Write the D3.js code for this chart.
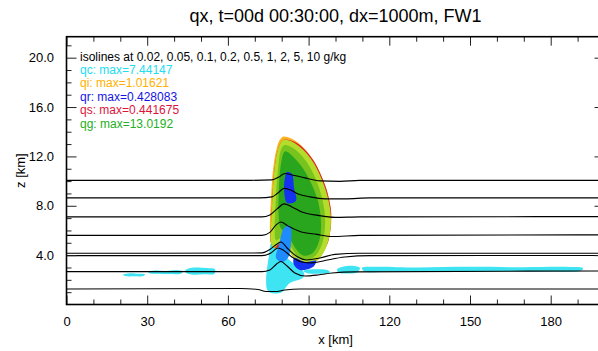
<!DOCTYPE html>
<html><head><meta charset="utf-8">
<script src="https://cdn.jsdelivr.net/npm/d3@7"></script>
<style>
body{margin:0;background:#fff}
svg{display:block}
text{font-family:"Liberation Sans",Arial,Helvetica,sans-serif}
</style>
</head><body>
<svg id="c" width="598" height="351"></svg>
<script>
// ---------- data ----------
const title = "qx, t=00d 00:30:00, dx=1000m, FW1";
const xLabel = "x [km]";
const zLabel = "z [km]";
const xDomain = [0, 200];
const zDomain = [0, 21.7];
const xMajorTicks = [0, 30, 60, 90, 120, 150, 180];
const zMajorTicks = [4, 8, 12, 16, 20];

const legendLines = [
  "isolines at 0.02, 0.05, 0.1, 0.2, 0.5, 1, 2, 5, 10 g/kg",
  "qc: max=7.44147",
  "qi: max=1.01621",
  "qr: max=0.428083",
  "qs: max=0.441675",
  "qg: max=13.0192"
];
const legendColors = ["#000000", "#22dcf0", "#ffb000", "#1414e6", "#dc143c", "#22b022"];

// black isolines: [x km, z km]
const isoline1 = [[0,10.06],[68.2,10.06],[76.4,10.10],[79.0,10.34],[81.2,10.62],[83.8,10.50],[88.7,10.26],[94.2,10.02],[101.7,9.98],[109.1,10.06],[200,10.06]];
const isoline2 = [[0,8.64],[71.9,8.64],[76.4,8.72],[78.6,9.04],[80.9,9.41],[83.1,9.29],[86.1,8.96],[90.5,8.72],[96.1,8.56],[103.5,8.56],[112.8,8.64],[200,8.64]];
const isoline3 = [[0,7.10],[72.7,7.10],[75.6,7.26],[78.3,7.75],[80.9,8.15],[83.8,7.91],[87.5,7.50],[93.5,7.22],[99.8,7.06],[109.1,7.10],[200,7.12]];
const isoline4 = [[0,5.60],[72.7,5.60],[75.6,5.84],[77.9,6.45],[79.7,6.69],[82.3,6.37],[86.8,5.92],[93.1,5.68],[98.7,5.51],[109.1,5.60],[200,5.64]];
const isoline5 = [[0,4.15],[72.7,4.18],[75.6,4.46],[78.3,4.91],[79.7,5.07],[82.0,4.58],[85.7,3.89],[89.4,3.61],[94.2,3.77],[99.8,4.06],[109.1,4.15],[200,4.15]];
const isoline6 = [[0,3.96],[72.7,3.96],[76.0,4.18],[78.6,4.58],[80.5,4.42],[83.8,3.85],[87.5,3.45],[91.3,3.37],[96.1,3.57],[103.5,3.85],[112.8,3.96],[200,3.97]];
const isoline7 = [[0,2.66],[72.7,2.66],[75.6,2.80],[77.9,3.24],[79.7,3.49],[82.0,3.12],[84.9,2.55],[88.7,2.31],[93.5,2.39],[98.7,2.55],[107.2,2.64],[200,2.72]];
const isoline8 = [[0,1.26],[64.5,1.30],[71.2,1.22],[74.2,1.05],[77.5,1.05],[81.2,1.18],[86.8,1.26],[200,1.26]];

// filled regions (outlines, x km, z km)
const qcPatchA = [[21.0,2.42],[23,2.52],[26,2.5],[29.2,2.45],[28.5,2.3],[25,2.28],[22,2.3]];
const qcPatchB = [[30.3,2.65],[33,2.75],[37,2.72],[41,2.78],[43.3,2.7],[42.5,2.5],[38,2.47],[34,2.5],[31,2.52]];
const qcPatchC = [[44.1,2.75],[46,2.95],[49,3.0],[52,2.95],[55.2,2.85],[55,2.5],[51,2.45],[47,2.42],[44.5,2.55]];
const qcPatchD = [[88,2.72],[92,2.85],[97,2.8],[98,2.6],[94,2.5],[90,2.52]];
const qcPatchE = [[100.6,2.85],[103,3.08],[107,3.12],[109.1,2.95],[108,2.6],[104,2.52],[101,2.6]];
const qcPatchF = [[109.9,2.98],[115,3.06],[130,3.0],[150,3.05],[170,3.02],[185,3.05],[192,2.95],[191.5,2.75],[180,2.68],[160,2.7],[140,2.66],[120,2.68],[110.5,2.7]];
const qcCore = [[74.2,2.0],[74.6,3.0],[75.3,4.0],[76.0,4.99],[77.9,5.39],[79.7,4.42],[82.0,3.77],[84.6,3.3],[86.8,2.96],[88.4,2.5],[87.8,2.15],[85.5,1.95],[83.0,1.75],[81.2,1.3],[80.1,1.0],[76.0,0.93],[74.6,1.2]];

const qiOutline = [[80.5,13.6],[83.1,13.5],[85.9,13.14],[89.0,12.5],[92.0,11.62],[94.6,10.5],[96.5,9.45],[97.9,8.23],[98.5,7.02],[98.0,5.88],[96.8,4.83],[92.4,3.45],[86.1,3.45],[81.2,4.74],[77.1,4.58],[76.0,4.99],[75.6,6.45],[75.9,8.07],[76.3,9.70],[77.0,11.31],[78.1,12.61],[79.2,13.3]];
const qsOutline = [[80.5,13.34],[83.1,13.3],[85.9,13.04],[89.0,12.45],[92.0,11.6],[94.6,10.5],[96.5,9.45],[97.9,8.2],[98.4,7.4],[98.3,7.02],[98.0,5.88],[96.8,4.83],[92.4,3.45],[86.1,3.45],[81.2,4.74],[77.1,4.58],[76.0,4.99],[76.0,6.45],[76.4,8.07],[76.8,9.70],[77.5,11.31],[78.6,12.53]];
const qgOuter = [[80.5,13.34],[83.1,13.26],[85.7,12.94],[88.7,12.37],[91.6,11.56],[94.2,10.50],[96.1,9.45],[97.6,8.23],[98.3,7.02],[98.0,5.88],[96.8,4.83],[95.0,4.01],[92.4,3.45],[89.4,3.20],[86.1,3.45],[83.4,4.10],[81.2,4.74],[79.0,4.91],[77.1,4.58],[76.0,4.99],[76.0,6.45],[76.4,8.07],[76.8,9.70],[77.5,11.31],[78.6,12.53]];
const qgMiddle = [[80.9,12.9],[84.0,12.7],[87.0,12.15],[90.0,11.3],[92.8,10.1],[94.8,8.8],[96.0,7.4],[96.0,6.0],[94.9,4.85],[92.5,3.95],[89.2,3.6],[86.1,3.85],[83.8,4.55],[81.6,5.2],[79.4,5.35],[77.9,5.2],[77.4,6.45],[77.7,8.07],[78.1,9.70],[78.8,11.31],[79.6,12.45]];
const qgInner = [[81.2,12.4],[84.6,11.9],[88.0,11.0],[91.0,9.8],[93.6,8.3],[94.6,6.6],[94.0,5.2],[91.6,4.2],[88.2,3.95],[85.3,4.5],[83.1,5.3],[80.9,5.88],[79.4,6.3],[78.8,7.8],[79.0,9.5],[79.6,11.2]];
const qrUpper = [[82.0,10.75],[83.8,10.58],[84.6,9.45],[85.3,8.39],[82.0,8.23],[80.9,9.29],[81.2,10.26]];
const qrColumn = [[80.9,6.20],[83.1,6.37],[83.4,4.83],[82.3,3.77],[80.1,3.45],[77.9,3.77],[79.0,4.83]];
const qrBottom = [[84.6,3.77],[88.7,3.45],[92.8,3.53],[91.6,3.04],[86.8,2.80],[84.6,3.20]];

// ---------- drawing ----------
const L = 66.5, R = 604.5, T = 36.7, B = 304.5;
const svg = d3.select("#c");
const x = d3.scaleLinear().domain(xDomain).range([L, R]);
const z = d3.scaleLinear().domain(zDomain).range([B, T]);

svg.append("defs").append("clipPath").attr("id","clip")
  .append("rect").attr("x",L).attr("y",T).attr("width",R-L).attr("height",B-T);
const plot = svg.append("g").attr("clip-path","url(#clip)");

const area = d3.line().x(d=>x(d[0])).y(d=>z(d[1])).curve(d3.curveCatmullRomClosed.alpha(0.5));
const fills = [
  [qcPatchA,"#3ee4f2"],[qcPatchB,"#3ee4f2"],[qcPatchC,"#3ee4f2"],[qcPatchD,"#3ee4f2"],
  [qcPatchE,"#3ee4f2"],[qcPatchF,"#3ee4f2"],[qcCore,"#3ee4f2"],
  [qiOutline,"#ffb020"],[qsOutline,"#e02030"],
  [qgOuter,"#b4dc2a"],[qgMiddle,"#78c41e"],[qgInner,"#2aa51e"],
  [qrUpper,"#1432f0"],[qrColumn,"#1e8cff"],[qrBottom,"#1432f0"]
];
plot.selectAll("path.fill").data(fills).join("path").attr("class","fill")
  .attr("d",d=>area(d[0])).attr("fill",d=>d[1]).attr("stroke","none");

const line = d3.line().x(d=>x(d[0])).y(d=>z(d[1])).curve(d3.curveMonotoneX);
const isolines = [isoline1,isoline2,isoline3,isoline4,isoline5,isoline6,isoline7,isoline8];
plot.selectAll("path.iso").data(isolines).join("path").attr("class","iso")
  .attr("d",line).attr("fill","none").attr("stroke","#000").attr("stroke-width",1.1);

// axes
const xMinor = d3.range(0, 201, 10).filter(v=>v%30!==0);
const zMinor = d3.range(1, 22, 1).filter(v=>v%4!==0);
function styleAxis(g){ g.select(".domain").remove(); g.selectAll(".tick line").attr("stroke","#222"); g.selectAll("text").attr("font-size",13).attr("fill","#000").attr("font-family","Liberation Sans, Arial, sans-serif"); }
svg.append("g").attr("transform",`translate(0,${B})`)
  .call(d3.axisBottom(x).tickValues(xMajorTicks).tickSize(-9).tickPadding(12).tickFormat(d3.format("d"))).call(styleAxis);
svg.append("g").attr("transform",`translate(0,${B})`)
  .call(d3.axisBottom(x).tickValues(xMinor).tickSize(-5).tickFormat("")).call(styleAxis);
svg.append("g").attr("transform",`translate(0,${T})`)
  .call(d3.axisTop(x).tickValues(xMajorTicks).tickSize(-9).tickFormat("")).call(styleAxis);
svg.append("g").attr("transform",`translate(0,${T})`)
  .call(d3.axisTop(x).tickValues(xMinor).tickSize(-5).tickFormat("")).call(styleAxis);
svg.append("g").attr("transform",`translate(${L},0)`)
  .call(d3.axisLeft(z).tickValues(zMajorTicks).tickSize(-10).tickPadding(12.5).tickFormat(d3.format(".1f"))).call(styleAxis);
svg.append("g").attr("transform",`translate(${L},0)`)
  .call(d3.axisLeft(z).tickValues(zMinor).tickSize(-5).tickFormat("")).call(styleAxis);
svg.append("g").attr("transform",`translate(${R},0)`)
  .call(d3.axisRight(z).tickValues(zMajorTicks).tickSize(-10).tickFormat("")).call(styleAxis);
svg.append("g").attr("transform",`translate(${R},0)`)
  .call(d3.axisRight(z).tickValues(zMinor).tickSize(-5).tickFormat("")).call(styleAxis);

svg.append("rect").attr("x",L).attr("y",T).attr("width",R-L).attr("height",B-T)
  .attr("fill","none").attr("stroke","#000").attr("stroke-width",1.6);

// texts
svg.append("text").attr("x",(L+R)/2).attr("y",22).attr("text-anchor","middle")
  .attr("font-size",18).text(title);
svg.append("text").attr("x",(L+R)/2).attr("y",344).attr("text-anchor","middle")
  .attr("font-size",13).text(xLabel);
svg.append("text").attr("transform",`translate(25,${(T+B)/2}) rotate(-90)`).attr("text-anchor","middle")
  .attr("font-size",13).text(zLabel);
svg.selectAll("text.leg").data(legendLines).join("text").attr("class","leg")
  .attr("x",80).attr("y",(d,i)=>60.5+i*13.4).attr("font-size",12)
  .attr("fill",(d,i)=>legendColors[i]).text(d=>d);
</script>
</body></html>
